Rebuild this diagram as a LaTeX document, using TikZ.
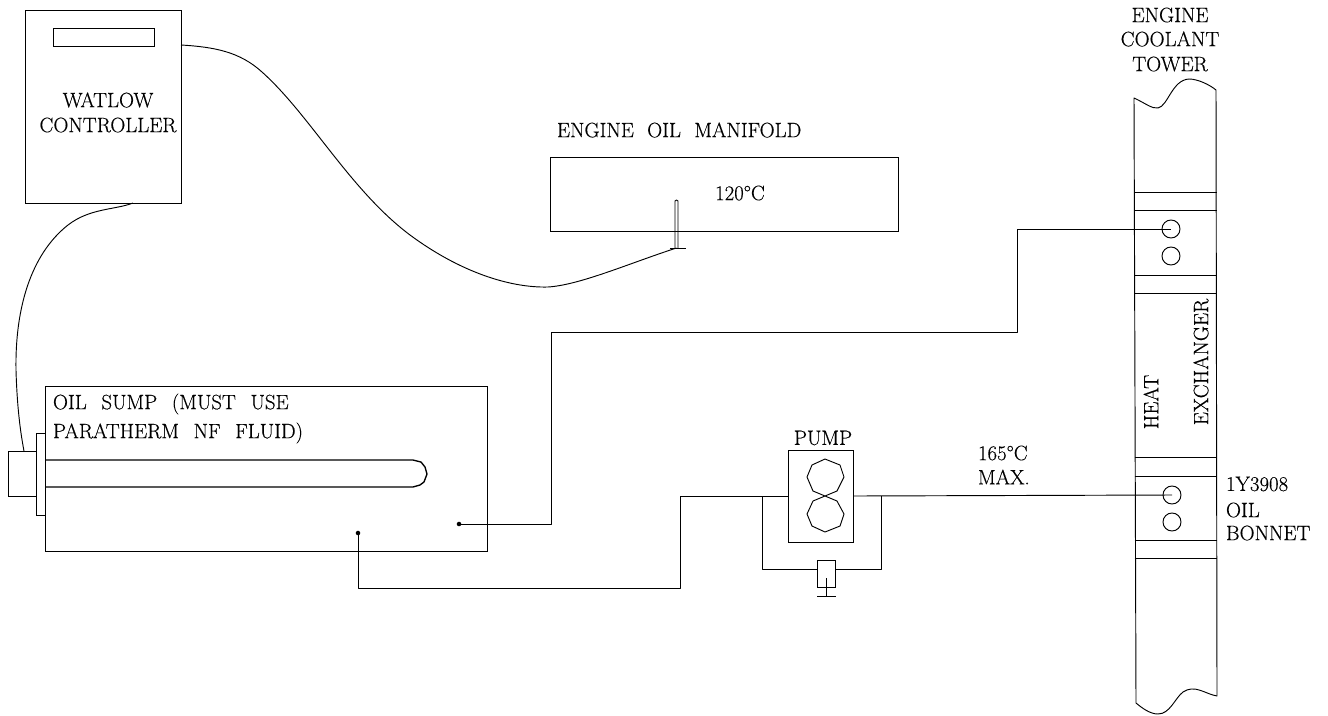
\documentclass[tikz,border=0pt]{standalone}
\usepackage{fontspec}
\setmainfont{Latin Modern Roman}[FakeBold=0.35]
\usetikzlibrary{calc}
\newcommand{\gap}[1]{\hspace{#1pt}}
\tikzset{
  x=0.75pt,y=-0.75pt,
  wire/.style={line width=0.7pt,line join=round},
  part/.style={draw,line width=0.7pt,rectangle,inner sep=0pt,outer sep=0pt,anchor=north west},
  lbl/.style={font=\fontsize{15.6}{17}\selectfont,inner sep=0pt,outer sep=0pt},
  lbll/.style={lbl,anchor=west},
  port/.style={draw,line width=0.7pt,circle,inner sep=0pt,outer sep=0pt,minimum size=13.5pt},
  dot/.style={fill,circle,inner sep=0pt,minimum size=3.4pt},
}
\newcommand{\boxat}[6]{\node[part,minimum width=#4*0.75pt,minimum height=#5*0.75pt,#6] (#1) at (#2,#3) {};}
\begin{document}
\begin{tikzpicture}
\useasboundingbox (0,0) rectangle (1328,715);
% controller
\boxat{ctrl}{25}{10}{156}{193}{}
\boxat{disp}{53}{28}{101}{18}{}
\node[lbl] (t1) at (108,100) {WATLOW};
\node[lbl] (t2) at (108,125) {CONTROLLER};
% manifold
\boxat{mani}{550}{157}{348}{74}{}
\node[lbll] (t3) at (557,130) {ENGINE\gap{10}OIL\gap{10}MANIFOLD};
\node[lbl] (t4) at (740,193) {120°C};
\coordinate (pbot) at (676.5,248);
\draw[wire] (675,248) -- (675,201) -- (676.5,200) -- (678,201) -- (678,248);
\draw[wire] (670,248) coordinate (barl) -- (686,248);
% sump
\boxat{sump}{45}{386}{442}{165}{}
\boxat{flange}{36.5}{433}{8.5}{82}{}
\boxat{plug}{8}{451}{28.5}{45}{}
\node[lbll] (t5) at (53,404) {OIL\gap{11}SUMP\gap{11}(MUST\gap{11}USE};
\node[lbll] (t6) at (53,433) {PARATHERM\gap{11}NF\gap{11}FLUID)};
\draw[line width=1pt,line join=round] (45,460) -- (413,460) -- (421,462) -- (425,467) -- (427,474) -- (424,482) -- (420,485) -- (413,487) -- (45,487);
\node[dot] (d1) at (459,524) {};
\node[dot] (d2) at (358,533) {};
% pump
\boxat{pump}{788}{450}{65}{92}{}
\node[lbl] (t7) at (823,438) {PUMP};
\coordinate (pc) at (825,496);
\draw[wire] (pc) -- (813,491) -- (807,477) -- (812,465) -- (825,459) -- (840,465) -- (844,477) -- (837,491) -- (813,501) -- (807,514) -- (812,526) -- (825,532) -- (840,526) -- (844,514) -- (837,501) -- (pc);
\boxat{valve}{817}{560}{18}{27}{}
\coordinate (stem) at (826,596);
\draw[wire] (826,578) -- (stem);
\draw[wire] (817,596) -- (836,596);
% pump connections
\coordinate (jl) at (762,496);
\coordinate (jr) at (881,496);
\draw[wire] (d2.center) -- (358,588) -- (680,588) -- (680,496) -- (pump.west |- jl);
\draw[wire] (jl) -- (762,569) -- (valve.west |- 0,569);
\draw[wire] (valve.east |- 0,569) -- (881,569) -- (jr);
\node[port] (c3) at (1172,495) {};
\node[port] (c4) at (1172,522) {};
\node[port] (c1) at (1171,229) {};
\node[port] (c2) at (1171,256) {};
\draw[wire] (pump.east |- jr) -- (c3.center);
\draw[wire] (d1.center) -- (551,524) -- (551,332) -- (1017,332) -- (1017,229) -- (c1.center);
% tower
\draw[wire] (1134,98) .. controls (1145,103) and (1152,109) .. (1158,108) .. controls (1168,106) and (1172,80) .. (1189,79) .. controls (1198,79) and (1210,85) .. (1216,90) -- (1217,696) .. controls (1205,694) and (1195,684) .. (1183,692) .. controls (1175,698) and (1170,714) .. (1158,714) .. controls (1150,714) and (1142,708) .. (1136,703) -- cycle;
\foreach \y in {192,210,275,293,457,476,540,558} \draw[wire] (1134.5,\y) -- (1216.5,\y);
\node[lbl] (t8) at (1170,15) {ENGINE};
\node[lbl] (t9) at (1170,39) {COOLANT};
\node[lbl] (t10) at (1170,64) {TOWER};
\node[lbl,rotate=90] (t11) at (1151,402) {HEAT};
\node[lbl,rotate=90] (t12) at (1201,362) {EXCHANGER};
\node[lbll] (t13) at (1226,484) {1Y3908};
\node[lbll] (t14) at (1226,510) {OIL};
\node[lbll] (t15) at (1226,533) {BONNET};
\node[lbll] (t16) at (978,453) {165°C};
\node[lbll] (t17) at (978,477) {MAX.};
% cables
\coordinate (a1) at (ctrl.north east |- 0,45);
\draw[wire] (a1) .. controls (215,47) and (240,52) .. (262,72) .. controls (310,115) and (350,190) .. (410,235) .. controls (460,272) and (510,288) .. (548,287) .. controls (580,285) and (630,263) .. (barl -| 676.5,248);
\coordinate (b1) at (133,203);
\draw[wire] (b1) .. controls (115,210) and (90,208) .. (68,225) .. controls (30,255) and (15,310) .. (16,370) .. controls (17,405) and (20,430) .. (24,451);
\end{tikzpicture}
\end{document}
